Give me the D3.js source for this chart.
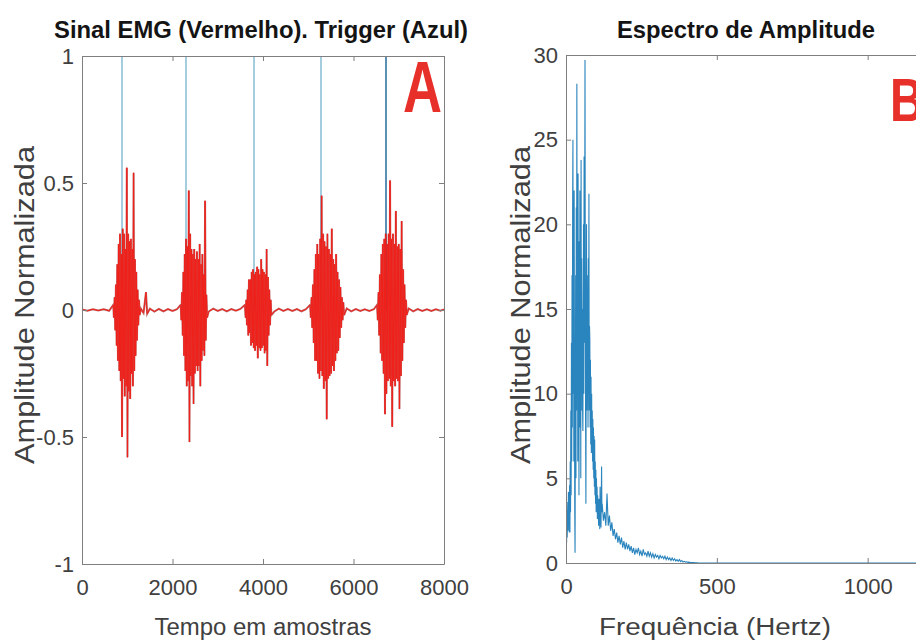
<!DOCTYPE html>
<html>
<head>
<meta charset="utf-8">
<script src="https://cdn.jsdelivr.net/npm/d3@7"></script>
<style>
  body { margin: 0; background: #fff; }
  svg { display: block; font-family: "Liberation Sans", Arial, sans-serif; }
  .axis path, .axis line { stroke: #7f7f7f; }
  .axis text { fill: #404040; font-size: 22px; }
</style>
</head>
<body>
<div id="chart"></div>
<script>
// ---- dados ----
// sinal EMG: linha de base (amostra, valor) fora das rajadas
const emgBase = [
  [0, 0.002], [120, -0.003], [240, 0.003], [360, -0.002], [480, 0.003], [600, -0.003],
  [1300, 0.006], [1360, -0.012], [1414, 0.07], [1440, -0.015], [1500, 0.005], [1600, -0.006],
  [1700, 0.004], [1800, -0.005], [1900, 0.004], [2000, -0.004], [2100, 0.003],
  [2800, -0.006], [2900, 0.005], [3000, -0.004], [3100, 0.004], [3200, -0.005], [3300, 0.004],
  [3400, -0.003], [3500, 0.004],
  [4250, -0.006], [4350, 0.005], [4450, -0.004], [4550, 0.004], [4650, -0.004], [4750, 0.004],
  [4850, -0.005], [4950, 0.003],
  [5850, 0.006], [5950, -0.005], [6050, 0.004], [6150, -0.004], [6250, 0.003], [6350, -0.004],
  [6450, 0.003],
  [7220, 0.006], [7320, -0.005], [7420, 0.004], [7520, -0.004], [7620, 0.003], [7720, -0.004],
  [7820, 0.003], [7920, -0.003], [8000, 0.002]
];
// rajadas (inicio, passo em amostras, valores)
const burstStart = [690, 2180, 3600, 5040, 6520];
const burstStep = [15, 15, 15, 16, 16];
const burst1 = [0.02, -0.03, 0.05, -0.08, 0.1, -0.14, 0.18, -0.2, 0.26, -0.24, 0.3, -0.28, 0.22, -0.5,
  0.32, -0.27, 0.3, -0.34, 0.24, -0.3, 0.56, -0.58, 0.3, -0.32, 0.27, -0.35, 0.28, -0.25, 0.24, -0.3,
  0.54, -0.24, 0.2, -0.18, 0.15, -0.12, 0.08, -0.06, 0.04, -0.02];
const burst2 = [0.02, -0.04, 0.07, -0.1, 0.15, -0.18, 0.22, -0.24, 0.28, -0.3, 0.25, -0.28, 0.47, -0.52,
  0.3, -0.26, 0.24, -0.3, 0.22, -0.37, 0.24, -0.25, 0.2, -0.22, 0.23, -0.24, 0.2, -0.22, 0.26, -0.3,
  0.18, -0.2, 0.22, -0.16, 0.14, -0.18, 0.43, -0.12, 0.06, -0.03];
const burst3 = [0.02, -0.03, 0.04, -0.06, 0.08, -0.1, 0.12, -0.09, 0.12, -0.14, 0.15, -0.13, 0.16, -0.15,
  0.14, -0.16, 0.15, -0.14, 0.17, -0.19, 0.16, -0.15, 0.14, -0.16, 0.2, -0.15, 0.16, -0.14, 0.15, -0.17,
  0.14, -0.16, 0.24, -0.22, 0.13, -0.1, 0.08, -0.06, 0.04, -0.02];
const burst4 = [0.02, -0.03, 0.05, -0.07, 0.1, -0.13, 0.16, -0.2, 0.22, -0.2, 0.26, -0.25, 0.22, -0.27,
  0.28, -0.24, 0.45, -0.26, 0.3, -0.31, 0.27, -0.28, 0.25, -0.43, 0.3, -0.27, 0.24, -0.26, 0.22, -0.25,
  0.32, -0.22, 0.2, -0.24, 0.18, -0.2, 0.22, -0.17, 0.15, -0.16, 0.12, -0.11, 0.09, -0.07, 0.05, -0.04,
  0.03, -0.02];
const burst5 = [0.02, -0.04, 0.07, -0.1, 0.14, -0.17, 0.22, -0.2, 0.26, -0.25, 0.28, -0.41, 0.3, -0.33,
  0.26, -0.28, 0.3, -0.27, 0.51, -0.3, 0.28, -0.46, 0.3, -0.28, 0.26, -0.3, 0.39, -0.27, 0.25, -0.28,
  0.26, -0.39, 0.24, -0.26, 0.35, -0.2, 0.16, -0.13, 0.1, -0.07, 0.04, -0.02];
const bursts = [burst1, burst2, burst3, burst4, burst5];
// trigger (amostras)
const triggerAt = [884, 2298, 3801, 5282, 6718];

// espectro: 0-119 Hz a cada 1 Hz, 120-440 Hz a cada 4 Hz
const specLow = [
  0.8, 2.6, 1.2, 3.1, 1.5, 2.8, 3.6, 1.9, 4.2, 2.4, 3.8, 1.8, 4.6,
  1.8, 6, 3, 9, 4, 13, 6, 17, 8, 21, 25, 10, 19, 6, 22, 12, 3,
  0.6, 8, 17, 5, 21, 9, 28.3, 12, 20, 6, 23, 10, 18, 4, 19, 8, 22, 11, 16, 5,
  23.8, 9, 18, 12, 15, 9, 7.8, 14, 20, 10, 24, 13, 19, 29.7, 15, 8, 3.5, 12, 20, 9,
  17, 11, 15, 8, 18, 10, 21.8, 9, 14, 13.2, 8, 12, 7, 11, 6.5, 10, 7, 9, 6, 8.5,
  5.5, 8, 5, 7.5, 4.5, 7.3, 4, 6, 3.5, 5.5, 3, 5, 3.2, 4.5, 2.6, 4, 2.9, 3.6, 2.2, 3.8,
  2.4, 3.2, 2, 4.5, 2.5, 3.4, 2.1, 4, 5.7, 3];
const specHigh = [3.5, 2.5, 3, 2.2, 4.1, 2.2, 2.8, 1.9, 2.4, 1.6, 2, 1.4, 1.8, 1.2, 1.6, 1.1, 1.5, 0.9,
  1.3, 0.8, 1.2, 0.8, 1.1, 0.7, 1, 0.6, 0.9, 0.5, 0.8, 0.6, 0.9, 0.5, 0.7, 0.4, 0.8, 0.5, 0.6, 0.4,
  0.7, 0.4, 0.6, 0.35, 0.55, 0.3, 0.5, 0.35, 0.45, 0.25, 0.45, 0.3, 0.4, 0.25, 0.4, 0.2, 0.35, 0.2,
  0.3, 0.15, 0.3, 0.15, 0.25, 0.12, 0.2, 0.1, 0.2, 0.08, 0.15, 0.06, 0.1, 0.05, 0.07, 0.04, 0.05,
  0.03, 0.03, 0.02, 0.02, 0.01, 0.01, 0.01, 0];
const specTail = [[440, 0], [1200, 0]];

const emgTicks = [-1, -0.5, 0, 0.5, 1];
const emgXTicks = [0, 2000, 4000, 6000, 8000];
const specTicks = [0, 5, 10, 15, 20, 25, 30];
const specXTicks = [0, 500, 1000];

// ---- montagem ----
let emg = emgBase.slice();
bursts.forEach(function(b, k) {
    b.forEach(function(v, i) { emg.push([burstStart[k] + i * burstStep[k], v]); });
});
emg.sort(function(a, b) { return a[0] - b[0]; });

let spec = specLow.map(function(v, i) { return [i, v]; })
    .concat(specHigh.map(function(v, i) { return [120 + i * 4, v]; }))
    .concat(specTail);

const W = 916, H = 641;
const svg = d3.select('#chart').append('svg').attr('width', W).attr('height', H);

// escalas
let xA = d3.scaleLinear().domain([0, 8000]).range([82, 444]);
let yA = d3.scaleLinear().domain([-1, 1]).range([564, 56]);
let xB = d3.scaleLinear().domain([0, 1200]).range([566, 928]);
let yB = d3.scaleLinear().domain([0, 30]).range([563, 55]);

let plain = function(d) { return String(d); };

function drawAxes(x, y, xt, yt) {
    let x0 = x.range()[0], x1 = x.range()[1], y0 = y.range()[0], y1 = y.range()[1];
    svg.append('g').attr('class', 'axis').attr('transform', `translate(0,${y0})`)
        .call(d3.axisBottom(x).tickValues(xt).tickSize(-5).tickPadding(15).tickSizeOuter(0).tickFormat(plain));
    svg.append('g').attr('class', 'axis').attr('transform', `translate(0,${y1})`)
        .call(d3.axisTop(x).tickValues(xt).tickSize(-5).tickFormat('').tickSizeOuter(0));
    svg.append('g').attr('class', 'axis').attr('transform', `translate(${x0},0)`)
        .call(d3.axisLeft(y).tickValues(yt).tickSize(-5).tickPadding(8).tickSizeOuter(0).tickFormat(plain));
    svg.append('g').attr('class', 'axis').attr('transform', `translate(${x1},0)`)
        .call(d3.axisRight(y).tickValues(yt).tickSize(-5).tickFormat('').tickSizeOuter(0));
}

// --- painel A ---
let lineA = d3.line().x(function(d) { return xA(d[0]); }).y(function(d) { return yA(d[1]); });
triggerAt.forEach(function(t, i) {
    svg.append('path')
        .attr('d', lineA([[t, 0], [t, 1]]))
        .attr('stroke', i === triggerAt.length - 1 ? '#5a8fb6' : '#a4cde0')
        .attr('stroke-width', 2).attr('fill', 'none');
});
svg.append('path').attr('d', lineA(emg))
    .attr('stroke', '#a32a2a').attr('stroke-width', 2).attr('fill', 'none').attr('opacity', 0.7);
svg.append('path').attr('d', lineA(emg))
    .attr('stroke', '#f0201a').attr('stroke-width', 1).attr('fill', 'none');
drawAxes(xA, yA, emgXTicks, emgTicks);

// --- painel B ---
svg.append('clipPath').attr('id', 'clipB').append('rect')
    .attr('x', 566).attr('y', 55).attr('width', 400).attr('height', 508);
let lineB = d3.line().x(function(d) { return xB(d[0]); }).y(function(d) { return yB(d[1]); });
svg.append('path').attr('d', lineB(spec)).attr('clip-path', 'url(#clipB)')
    .attr('stroke', '#2a84bd').attr('stroke-width', 1.1).attr('fill', 'none');
drawAxes(xB, yB, specXTicks, specTicks);

// --- textos ---
function txt(s, x, y, size, opts) {
    opts = opts || {};
    let t = svg.append('text').text(s)
        .attr('x', x).attr('y', y)
        .attr('font-size', size)
        .attr('text-anchor', opts.anchor || 'middle')
        .attr('fill', opts.fill || '#404040')
        .attr('font-weight', opts.bold ? 'bold' : 'normal');
    if (opts.len) t.attr('textLength', opts.len).attr('lengthAdjust', 'spacingAndGlyphs');
    if (opts.rotate) t.attr('transform', `rotate(-90,${x},${y})`);
    return t;
}
txt('Sinal EMG (Vermelho). Trigger (Azul)', 261, 38, 23, { bold: true, fill: '#141414', len: 414 });
txt('Espectro de Amplitude', 746, 38, 23, { bold: true, fill: '#141414', len: 258 });
txt('Tempo em amostras', 263, 635, 23, { len: 217 });
txt('Frequência (Hertz)', 715, 635, 23, { len: 232 });
txt('Amplitude Normalizada', 34, 305, 28, { len: 318, rotate: true });
txt('Amplitude Normalizada', 530, 305, 28, { len: 318, rotate: true });
txt('A', 403, 112, 72, { bold: true, fill: '#e8302a', anchor: 'start', len: 39 });
txt('B', 890, 121, 62, { bold: true, fill: '#e8302a', anchor: 'start', len: 34 });
</script>
</body>
</html>
